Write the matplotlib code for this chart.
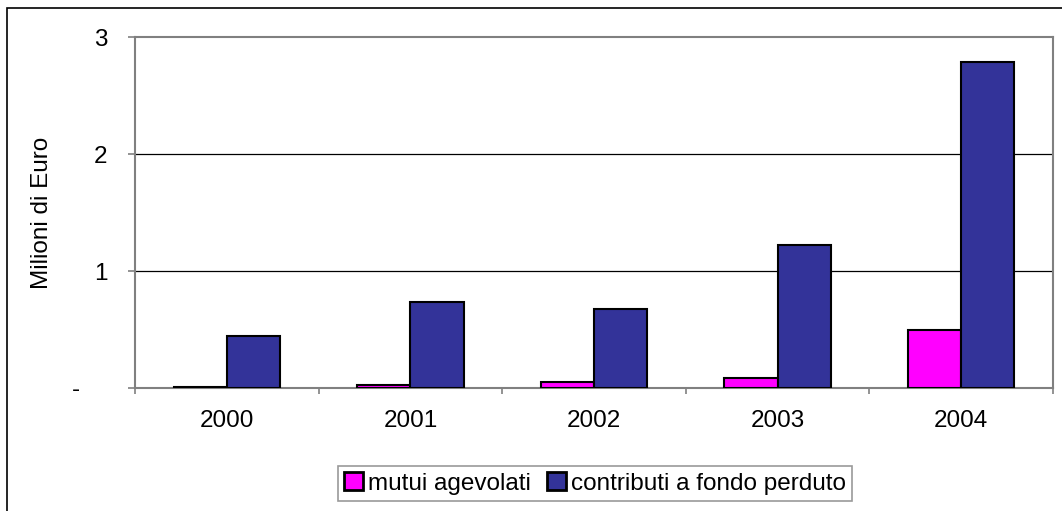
import matplotlib.pyplot as plt
import numpy as np
from matplotlib.patches import Rectangle

plt.rcParams['font.family'] = ['Liberation Sans', 'DejaVu Sans']

years = ['2000', '2001', '2002', '2003', '2004']
mutui = [0.01, 0.028, 0.049, 0.083, 0.496]
contributi = [0.447, 0.737, 0.678, 1.222, 2.784]
ytick_labels = ['-' + ' ' * 4, '1', '2', '3']

magenta = '#FF00FF'
navy = '#333399'
grey = '#808080'
fs = 17.5

fig = plt.figure(figsize=(10.62, 5.11), dpi=100)
fig.patch.set_facecolor('white')
# outer chart border (right and bottom edges fall outside the picture)
fig.patches.append(Rectangle((7 / 1062, -0.05), 1.1, 1 - 8 / 511 + 0.05,
                             transform=fig.transFigure, fill=False,
                             edgecolor='black', linewidth=1.2))

ax = fig.add_axes([135 / 1062, 1 - 388 / 511, (1053 - 135) / 1062, (388 - 37) / 511])
x = np.arange(len(years))
w = 0.29
ax.bar(x - w / 2, mutui, w, color=magenta, edgecolor='black', linewidth=1.5,
       label='mutui agevolati', zorder=3)
ax.bar(x + w / 2, contributi, w, color=navy, edgecolor='black', linewidth=1.5,
       label='contributi a fondo perduto', zorder=3)

ax.set_xlim(-0.5, len(years) - 0.5)
ax.set_ylim(0, 3)
ax.set_yticks([0, 1, 2, 3])
ax.set_yticklabels(ytick_labels, fontsize=fs)
ax.set_xticks(x)
ax.set_xticklabels(years, fontsize=fs)
ax.set_xticks(np.arange(-0.5, len(years)), minor=True)
ax.tick_params(axis='x', which='major', length=0, pad=16)
ax.tick_params(axis='x', which='minor', length=4.5, color=grey, width=1.2)
ax.tick_params(axis='y', length=5, color=grey, width=1.2, pad=15)

for yv in [1, 2]:
    ax.axhline(yv, color='black', linewidth=0.9, zorder=1)
for s in ax.spines.values():
    s.set_color(grey)
    s.set_linewidth(1.5)

ax.set_ylabel('Milioni di Euro', fontsize=fs)
ax.yaxis.set_label_coords((53 - 135) / 918, 0.5)

leg = ax.legend(loc='center', bbox_to_anchor=((595 - 135) / 918, (388 - 483.5) / 351),
                ncol=2, fontsize=fs, frameon=True, fancybox=False,
                handlelength=0.75, handleheight=0.75, handletextpad=0.2,
                columnspacing=0.7, borderpad=0.25, borderaxespad=0)
leg.get_frame().set_edgecolor(grey)
leg.get_frame().set_linewidth(1.2)
for h in leg.legend_handles:
    h.set_linewidth(2)

fig.savefig('out.png', dpi=100)
